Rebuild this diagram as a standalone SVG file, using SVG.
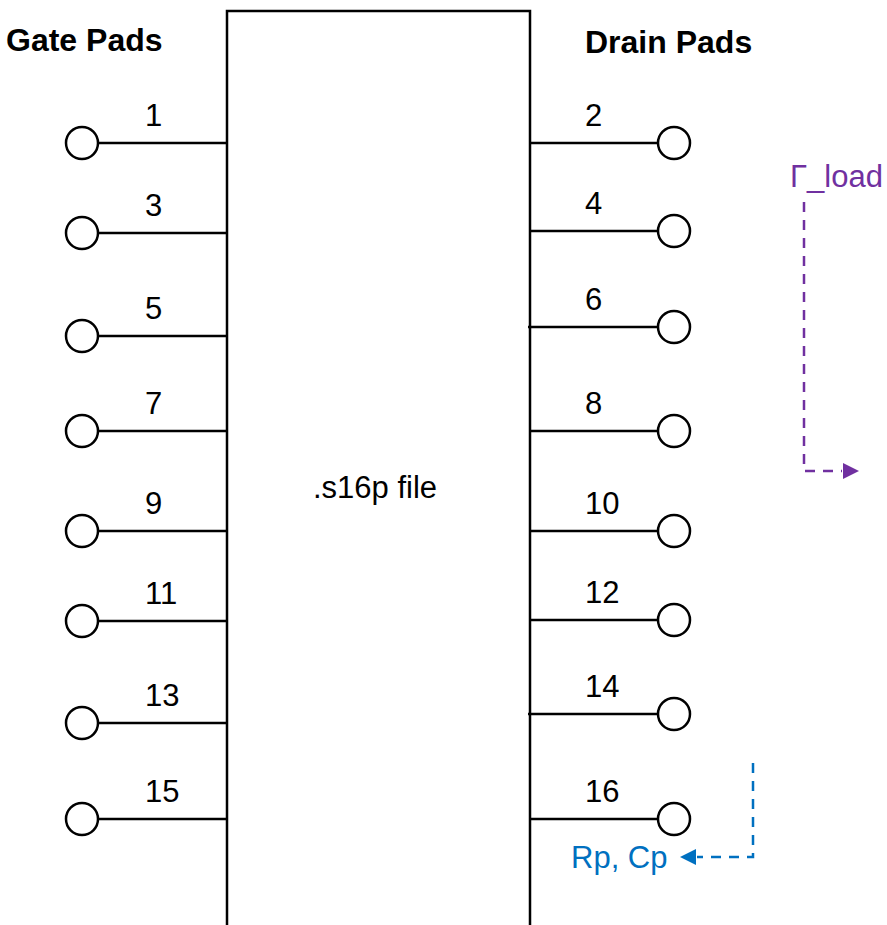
<svg xmlns="http://www.w3.org/2000/svg" width="887" height="925" viewBox="0 0 887 925">
<defs>
<style>
.ln{stroke:#000;stroke-width:2.5;fill:none}
.pad{stroke:#000;stroke-width:2.5;fill:#fff}
.t{font-family:"Liberation Sans",Arial,sans-serif;font-size:31px;fill:#000}
.h{font-family:"Liberation Sans",Arial,sans-serif;font-size:32px;font-weight:bold;fill:#000}
.pu{stroke:#7030A0;stroke-width:2.5;fill:none;stroke-dasharray:10 8}
.bl{stroke:#0070C0;stroke-width:2.5;fill:none;stroke-dasharray:10 8}
</style>
</defs>
<rect width="887" height="925" fill="#fff"/>
<g id="box">
<path class="ln" d="M227,940 V11 H530 V940"/>
<text class="t" x="375" y="498" text-anchor="middle">.s16p file</text>
</g>
<text class="h" x="6" y="51">Gate Pads</text>
<text class="h" x="585" y="53">Drain Pads</text>
<g id="connectors">
<line class="ln" x1="98" y1="143" x2="227" y2="143"/>
<line class="ln" x1="98" y1="233" x2="227" y2="233"/>
<line class="ln" x1="98" y1="336" x2="227" y2="336"/>
<line class="ln" x1="98" y1="431" x2="227" y2="431"/>
<line class="ln" x1="98" y1="531" x2="227" y2="531"/>
<line class="ln" x1="98" y1="621" x2="227" y2="621"/>
<line class="ln" x1="98" y1="723" x2="227" y2="723"/>
<line class="ln" x1="98" y1="819" x2="227" y2="819"/>
<line class="ln" x1="530" y1="143" x2="658" y2="143"/>
<line class="ln" x1="530" y1="231" x2="658" y2="231"/>
<line class="ln" x1="528" y1="327" x2="658" y2="327"/>
<line class="ln" x1="530" y1="431" x2="658" y2="431"/>
<line class="ln" x1="530" y1="531" x2="658" y2="531"/>
<line class="ln" x1="530" y1="620" x2="658" y2="620"/>
<line class="ln" x1="528" y1="714" x2="658" y2="714"/>
<line class="ln" x1="530" y1="819" x2="658" y2="819"/>
<path class="pu" d="M804,202 V471 H842"/>
<path d="M843,463 L859,471 L843,479 Z" fill="#7030A0"/>
<path class="bl" d="M753,763 V857 H697"/>
<path d="M696,849 L680,857 L696,865 Z" fill="#0070C0"/>
</g>
<g id="gate-pads">
<g id="pad1"><circle class="pad" cx="82" cy="143" r="16"/><text class="t" x="145" y="126">1</text></g>
<g id="pad3"><circle class="pad" cx="82" cy="233" r="16"/><text class="t" x="145" y="216">3</text></g>
<g id="pad5"><circle class="pad" cx="82" cy="336" r="16"/><text class="t" x="145" y="319">5</text></g>
<g id="pad7"><circle class="pad" cx="82" cy="431" r="16"/><text class="t" x="145" y="414">7</text></g>
<g id="pad9"><circle class="pad" cx="82" cy="531" r="16"/><text class="t" x="145" y="514">9</text></g>
<g id="pad11"><circle class="pad" cx="82" cy="621" r="16"/><text class="t" x="145" y="604">11</text></g>
<g id="pad13"><circle class="pad" cx="82" cy="723" r="16"/><text class="t" x="145" y="706">13</text></g>
<g id="pad15"><circle class="pad" cx="82" cy="819" r="16"/><text class="t" x="145" y="802">15</text></g>
</g>
<g id="drain-pads">
<g id="pad2"><circle class="pad" cx="674" cy="143" r="16"/><text class="t" x="585" y="126">2</text></g>
<g id="pad4"><circle class="pad" cx="674" cy="231" r="16"/><text class="t" x="585" y="214">4</text></g>
<g id="pad6"><circle class="pad" cx="674" cy="327" r="16"/><text class="t" x="585" y="310">6</text></g>
<g id="pad8"><circle class="pad" cx="674" cy="431" r="16"/><text class="t" x="585" y="414">8</text></g>
<g id="pad10"><circle class="pad" cx="674" cy="531" r="16"/><text class="t" x="585" y="514">10</text></g>
<g id="pad12"><circle class="pad" cx="674" cy="620" r="16"/><text class="t" x="585" y="603">12</text></g>
<g id="pad14"><circle class="pad" cx="674" cy="714" r="16"/><text class="t" x="585" y="697">14</text></g>
<g id="pad16"><circle class="pad" cx="674" cy="819" r="16"/><text class="t" x="585" y="802">16</text></g>
</g>
<g id="gamma-load"><text class="t" x="790" y="187" style="fill:#7030A0">Γ_load</text></g>
<g id="rp-cp"><text class="t" x="571" y="868" style="fill:#0070C0">Rp, Cp</text></g>
</svg>
